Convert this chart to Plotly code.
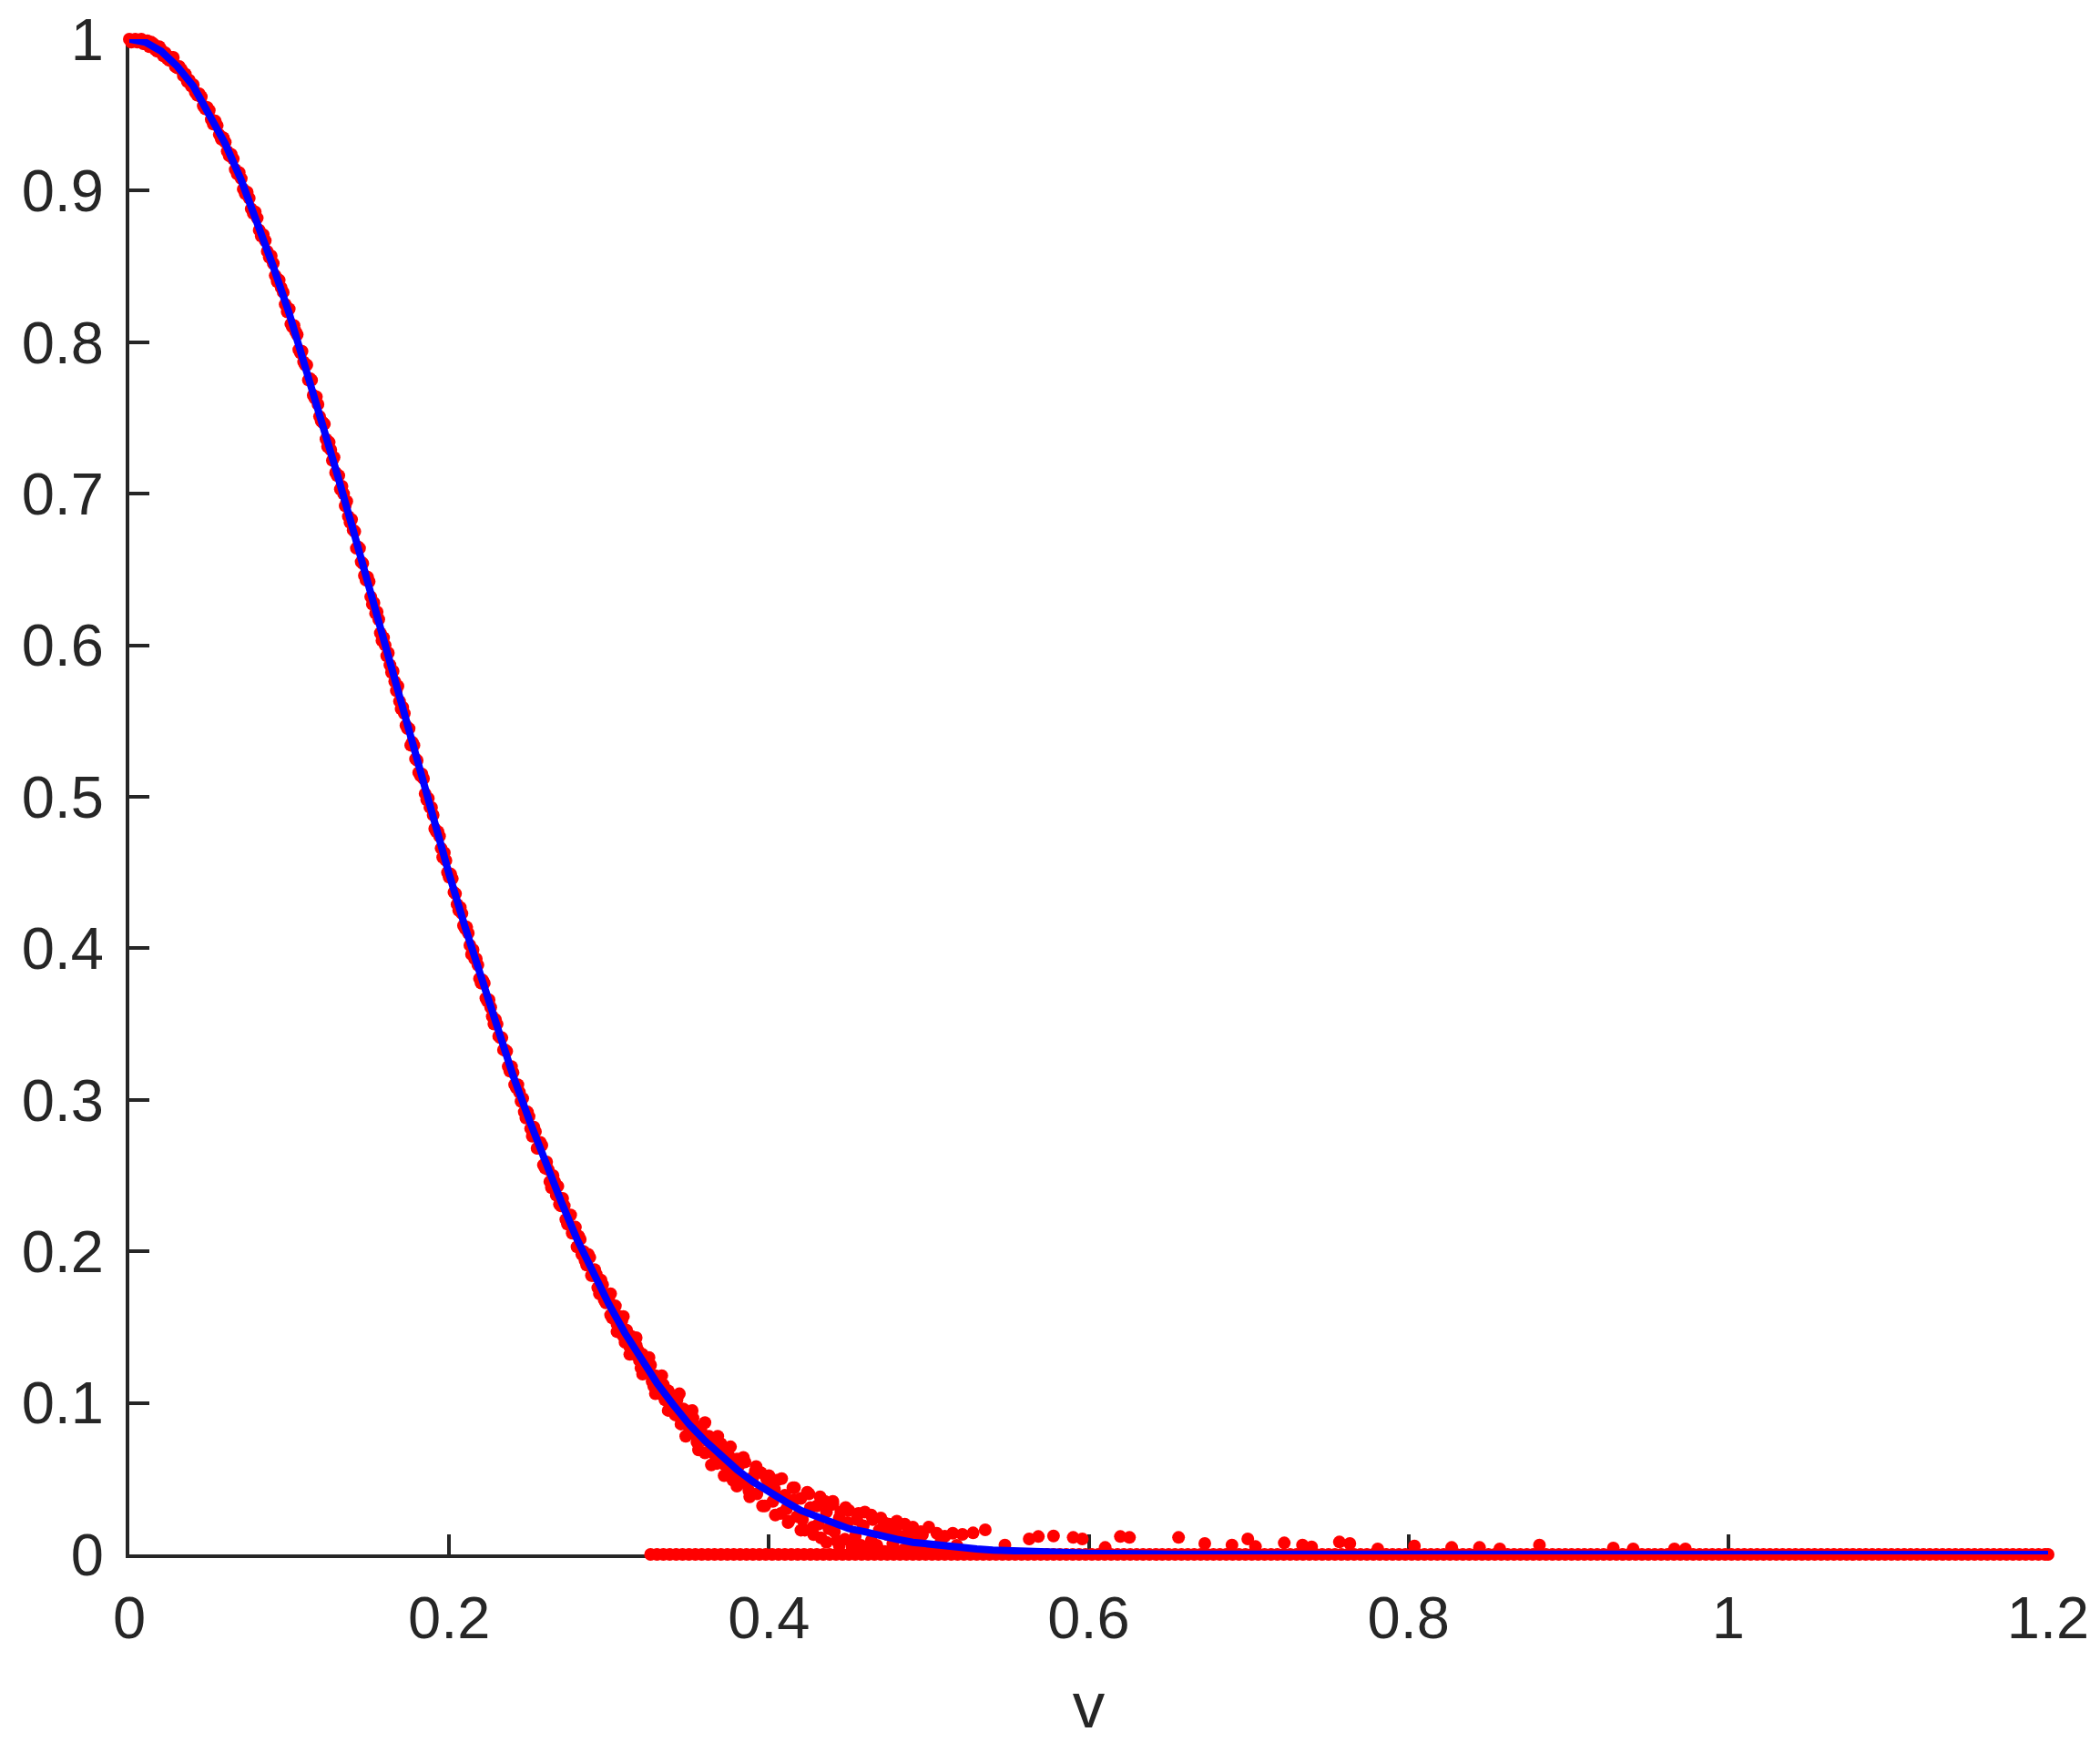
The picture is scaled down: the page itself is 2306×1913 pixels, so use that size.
import plotly.graph_objects as go

# ---------------- data ----------------
# fitted (blue) curve
curve_v = [0.00, 0.01, 0.02, 0.03, 0.04, 0.05, 0.06, 0.07, 0.08, 0.09,
           0.10, 0.11, 0.12, 0.13, 0.14, 0.15, 0.16, 0.17, 0.18, 0.19,
           0.20, 0.21, 0.22, 0.23, 0.24, 0.25, 0.26, 0.27, 0.28, 0.29,
           0.30, 0.31, 0.32, 0.33, 0.34, 0.35, 0.36, 0.37, 0.38, 0.39,
           0.40, 0.41, 0.42, 0.43, 0.44, 0.45, 0.46, 0.47, 0.48, 0.49,
           0.50, 0.51, 0.52, 0.53, 0.54, 0.55, 0.56, 0.58, 0.60, 0.65,
           0.70, 0.80, 0.90, 1.00, 1.10, 1.20]
curve_f = [1.000, 0.998, 0.992, 0.982, 0.969, 0.951, 0.931, 0.907, 0.880, 0.850,
           0.819, 0.785, 0.750, 0.713, 0.676, 0.638, 0.599, 0.561, 0.523, 0.486,
           0.449, 0.414, 0.380, 0.347, 0.316, 0.287, 0.259, 0.233, 0.208, 0.186,
           0.165, 0.146, 0.129, 0.113, 0.099, 0.086, 0.075, 0.065, 0.056, 0.048,
           0.041, 0.035, 0.029, 0.025, 0.021, 0.017, 0.015, 0.012, 0.010, 0.008,
           0.0067, 0.0055, 0.0045, 0.0036, 0.0029, 0.0024, 0.0019, 0.0012, 0.0007, 0.0002,
           0.0001, 0.0, 0.0, 0.0, 0.0, 0.0]

# red samples: top part
top_v = [0.0000, 0.0025, 0.0050, 0.0075, 0.0100, 0.0125, 0.0150, 0.0175, 0.0200, 0.0225,
         0.0250, 0.0275, 0.0300, 0.0325, 0.0350, 0.0375, 0.0400, 0.0425, 0.0450, 0.0475,
         0.0500, 0.0525, 0.0550, 0.0575, 0.0600, 0.0625, 0.0650, 0.0675, 0.0700, 0.0725,
         0.0750, 0.0775, 0.0800, 0.0825, 0.0850, 0.0875, 0.0900, 0.0925, 0.0950, 0.0975]
top_f = [1.000, 0.999, 0.998, 1.000, 0.997, 0.995, 0.997, 0.992, 0.993, 0.991,
         0.986, 0.988, 0.981, 0.980, 0.977, 0.973, 0.970, 0.963, 0.962, 0.954,
         0.953, 0.944, 0.943, 0.934, 0.932, 0.923, 0.921, 0.911, 0.908, 0.898,
         0.895, 0.885, 0.882, 0.870, 0.867, 0.856, 0.852, 0.840, 0.836, 0.825]

top2_v = [0.00125, 0.00375, 0.00625, 0.00875, 0.01125, 0.01375, 0.01625, 0.01875, 0.02125, 0.02375,
          0.02625, 0.02875, 0.03125, 0.03375, 0.03625, 0.03875, 0.04125, 0.04375, 0.04625, 0.04875,
          0.05125, 0.05375, 0.05625, 0.05875, 0.06125, 0.06375, 0.06625, 0.06875, 0.07125, 0.07375,
          0.07625, 0.07875, 0.08125, 0.08375, 0.08625, 0.08875, 0.09125, 0.09375, 0.09625, 0.09875]
top2_f = [0.998, 1.000, 1.001, 0.997, 0.999, 0.998, 0.993, 0.995, 0.989, 0.987,
          0.988, 0.982, 0.982, 0.976, 0.972, 0.969, 0.965, 0.964, 0.956, 0.955,
          0.947, 0.946, 0.937, 0.935, 0.926, 0.924, 0.914, 0.912, 0.901, 0.899,
          0.888, 0.886, 0.874, 0.871, 0.860, 0.857, 0.844, 0.841, 0.833, 0.820]

# red samples: steep part
mid_v = [0.100, 0.102, 0.104, 0.106, 0.108, 0.110, 0.112, 0.114, 0.116, 0.118,
         0.120, 0.122, 0.124, 0.126, 0.128, 0.130, 0.132, 0.134, 0.136, 0.138,
         0.140, 0.142, 0.144, 0.146, 0.148, 0.150, 0.152, 0.154, 0.156, 0.158,
         0.160, 0.162, 0.164, 0.166, 0.168, 0.170, 0.172, 0.174, 0.176, 0.178,
         0.180, 0.182, 0.184, 0.186, 0.188, 0.190, 0.192, 0.194, 0.196, 0.198,
         0.200, 0.202, 0.204, 0.206, 0.208, 0.210, 0.212, 0.214, 0.216, 0.218,
         0.220, 0.222, 0.224, 0.226, 0.228, 0.230, 0.232, 0.234, 0.236, 0.238,
         0.240, 0.242, 0.244, 0.246, 0.248, 0.250, 0.252, 0.254, 0.256, 0.258,
         0.260, 0.262, 0.264, 0.266, 0.268, 0.270, 0.272, 0.274, 0.276, 0.278,
         0.280, 0.282, 0.284, 0.286, 0.288, 0.290, 0.292, 0.294, 0.296, 0.298,
         0.300, 0.302, 0.304, 0.306, 0.308, 0.310, 0.312, 0.314, 0.316, 0.318,
         0.320, 0.322, 0.324, 0.326, 0.328, 0.330, 0.332, 0.334, 0.336, 0.338]
mid_f = [0.822, 0.810, 0.807, 0.795, 0.794, 0.785, 0.775, 0.775, 0.763, 0.759,
         0.748, 0.746, 0.731, 0.729, 0.724, 0.712, 0.703, 0.700, 0.695, 0.681,
         0.676, 0.664, 0.664, 0.654, 0.643, 0.642, 0.627, 0.621, 0.617, 0.603,
         0.600, 0.595, 0.582, 0.576, 0.573, 0.558, 0.555, 0.545, 0.534, 0.534,
         0.524, 0.514, 0.512, 0.498, 0.493, 0.488, 0.477, 0.474, 0.460, 0.458,
         0.447, 0.446, 0.436, 0.425, 0.423, 0.413, 0.410, 0.396, 0.393, 0.389,
         0.377, 0.377, 0.365, 0.361, 0.350, 0.350, 0.341, 0.333, 0.332, 0.319,
         0.318, 0.308, 0.305, 0.301, 0.288, 0.289, 0.276, 0.279, 0.268, 0.270,
         0.255, 0.254, 0.242, 0.246, 0.243, 0.230, 0.230, 0.218, 0.224, 0.212,
         0.203, 0.208, 0.200, 0.191, 0.196, 0.184, 0.185, 0.172, 0.178, 0.166,
         0.167, 0.156, 0.164, 0.152, 0.154, 0.140, 0.144, 0.144, 0.132, 0.135,
         0.123, 0.130, 0.120, 0.125, 0.111, 0.115, 0.106, 0.112, 0.102, 0.106]

mid2_v = [0.101, 0.103, 0.105, 0.107, 0.109, 0.111, 0.113, 0.115, 0.117, 0.119,
          0.121, 0.123, 0.125, 0.127, 0.129, 0.131, 0.133, 0.135, 0.137, 0.139,
          0.141, 0.143, 0.145, 0.147, 0.149, 0.151, 0.153, 0.155, 0.157, 0.159,
          0.161, 0.163, 0.165, 0.167, 0.169, 0.171, 0.173, 0.175, 0.177, 0.179,
          0.181, 0.183, 0.185, 0.187, 0.189, 0.191, 0.193, 0.195, 0.197, 0.199,
          0.201, 0.203, 0.205, 0.207, 0.209, 0.211, 0.213, 0.215, 0.217, 0.219,
          0.221, 0.223, 0.225, 0.227, 0.229, 0.231, 0.233, 0.235, 0.237, 0.239,
          0.241, 0.243, 0.245, 0.247, 0.249, 0.251, 0.253, 0.255, 0.257, 0.259,
          0.261, 0.263, 0.265, 0.267, 0.269, 0.271, 0.273, 0.275, 0.277, 0.279,
          0.281, 0.283, 0.285, 0.287, 0.289, 0.291, 0.293, 0.295, 0.297, 0.299,
          0.301, 0.303, 0.305, 0.307, 0.309, 0.311, 0.313, 0.315, 0.317, 0.319,
          0.321, 0.323, 0.325, 0.327, 0.329, 0.331, 0.333, 0.335, 0.337, 0.339]
mid2_f = [0.812, 0.811, 0.805, 0.793, 0.787, 0.785, 0.776, 0.765, 0.764, 0.751,
          0.747, 0.736, 0.734, 0.722, 0.714, 0.712, 0.705, 0.692, 0.685, 0.683,
          0.675, 0.665, 0.655, 0.646, 0.645, 0.632, 0.628, 0.622, 0.608, 0.605,
          0.593, 0.587, 0.583, 0.570, 0.563, 0.559, 0.547, 0.545, 0.536, 0.525,
          0.516, 0.515, 0.502, 0.499, 0.493, 0.479, 0.477, 0.466, 0.463, 0.450,
          0.449, 0.437, 0.429, 0.427, 0.415, 0.414, 0.402, 0.399, 0.393, 0.380,
          0.379, 0.367, 0.366, 0.355, 0.353, 0.342, 0.341, 0.333, 0.322, 0.322,
          0.310, 0.310, 0.299, 0.292, 0.292, 0.281, 0.282, 0.268, 0.272, 0.257,
          0.259, 0.246, 0.250, 0.237, 0.231, 0.235, 0.221, 0.223, 0.212, 0.216,
          0.210, 0.198, 0.194, 0.198, 0.184, 0.188, 0.176, 0.181, 0.168, 0.171,
          0.158, 0.163, 0.152, 0.157, 0.144, 0.148, 0.137, 0.133, 0.138, 0.128,
          0.132, 0.120, 0.125, 0.114, 0.118, 0.107, 0.113, 0.102, 0.108, 0.097]

# red samples: tail
tail_v = [0.3400, 0.3425, 0.3450, 0.3475, 0.3500, 0.3525, 0.3550, 0.3575, 0.3600, 0.3625,
          0.3650, 0.3675, 0.3700, 0.3725, 0.3750, 0.3775, 0.3800, 0.3825, 0.3850, 0.3875,
          0.3900, 0.3925, 0.3950, 0.3975, 0.4000, 0.4025, 0.4050, 0.4075, 0.4100, 0.4125,
          0.4150, 0.4175, 0.4200, 0.4225, 0.4250, 0.4275, 0.4300, 0.4325, 0.4350, 0.4375,
          0.4400, 0.4425, 0.4450, 0.4475, 0.4500, 0.4525, 0.4550, 0.4575, 0.4600, 0.4625,
          0.4650, 0.4675, 0.4700, 0.4725, 0.4750, 0.4775, 0.4800, 0.4825, 0.4850, 0.4875,
          0.4900, 0.4925, 0.4950, 0.4975, 0.5000, 0.5025, 0.5050, 0.5075, 0.5100, 0.5125,
          0.5150, 0.5175, 0.5200]
tail_f = [0.095, 0.102, 0.086, 0.092, 0.084, 0.090, 0.074, 0.082, 0.067, 0.078,
          0.071, 0.060, 0.073, 0.059, 0.065, 0.049, 0.063, 0.050, 0.061, 0.042,
          0.051, 0.040, 0.054, 0.032, 0.047, 0.035, 0.049, 0.027, 0.039, 0.022,
          0.044, 0.025, 0.037, 0.016, 0.040, 0.018, 0.032, 0.011, 0.035, 0.017,
          0.035, 0.009, 0.028, 0.010, 0.029, 0.004, 0.023, 0.006, 0.028, 0.002,
          0.023, 0.006, 0.024, 0.002, 0.020, 0.007, 0.022, 0.002, 0.020, 0.004,
          0.018, 0.002, 0.015, 0.004, 0.018, 0.002, 0.014, 0.008, 0.012, 0.002,
          0.014, 0.006, 0.003]

# extra samples in the scattered cloud
cloud_v = [0.3415, 0.3465, 0.3515, 0.3565, 0.3615, 0.3665, 0.3715, 0.3765, 0.3815, 0.3865,
           0.3915, 0.3985, 0.4035, 0.4110, 0.4160, 0.4210, 0.4260, 0.4310, 0.4360, 0.4410,
           0.4440, 0.4490, 0.4540, 0.4590, 0.4640, 0.4690, 0.4740, 0.4790, 0.4840, 0.4890,
           0.4940]
cloud_f = [0.092, 0.096, 0.080, 0.084, 0.075, 0.065, 0.068, 0.053, 0.059, 0.046,
           0.055, 0.050, 0.043, 0.030, 0.036, 0.023, 0.031, 0.020, 0.028, 0.015,
           0.024, 0.021, 0.012, 0.019, 0.009, 0.016, 0.013, 0.015, 0.012, 0.010,
           0.011]

cloud2_v = [0.301, 0.305, 0.309, 0.313, 0.317, 0.321, 0.325, 0.329, 0.333, 0.337,
            0.344, 0.348, 0.352, 0.356, 0.360, 0.364, 0.368, 0.372, 0.376, 0.380,
            0.384, 0.388, 0.392, 0.396, 0.400, 0.404, 0.408, 0.412, 0.416, 0.420,
            0.424, 0.428, 0.432, 0.436, 0.440, 0.444, 0.448, 0.452, 0.456, 0.460,
            0.464, 0.468, 0.472, 0.476, 0.480, 0.484, 0.488, 0.492, 0.496, 0.500]
cloud2_f = [0.172, 0.147, 0.157, 0.132, 0.143, 0.119, 0.130, 0.106, 0.118, 0.095,
            0.106, 0.078, 0.095, 0.069, 0.087, 0.059, 0.078, 0.052, 0.071, 0.045,
            0.064, 0.038, 0.058, 0.032, 0.052, 0.026, 0.050, 0.021, 0.044, 0.016,
            0.041, 0.013, 0.038, 0.008, 0.033, 0.006, 0.031, 0.005, 0.027, 0.003,
            0.026, 0.004, 0.021, 0.002, 0.019, 0.003, 0.016, 0.001, 0.013, 0.002]

# isolated samples far in the tail
outlier_v = [0.5210, 0.5277, 0.5353, 0.5476, 0.5628, 0.5685, 0.5780, 0.5903, 0.5960, 0.6103,
             0.6198, 0.6255, 0.6562, 0.6726, 0.6896, 0.6995, 0.7043, 0.7223, 0.7337, 0.7394,
             0.7568, 0.7633, 0.7808, 0.8037, 0.8270, 0.8444, 0.8571, 0.8819, 0.9281, 0.9405,
             0.9663, 0.9732]
outlier_f = [0.0132, 0.0142, 0.0162, 0.0062, 0.0102, 0.0118, 0.0122, 0.0112, 0.0102, 0.0046,
             0.0118, 0.0112, 0.0112, 0.0072, 0.0062, 0.0102, 0.0052, 0.0076, 0.0062, 0.0050,
             0.0082, 0.0072, 0.0036, 0.0056, 0.0046, 0.0046, 0.0036, 0.0062, 0.0042, 0.0036,
             0.0036, 0.0036]

# samples that are exactly zero
zero_v = [0.326, 0.330, 0.334, 0.338, 0.342, 0.346, 0.350, 0.354, 0.358, 0.362,
          0.366, 0.370, 0.374, 0.378, 0.382, 0.386, 0.390, 0.394, 0.398, 0.402,
          0.406, 0.410, 0.414, 0.418, 0.422, 0.426, 0.430, 0.434, 0.438, 0.442,
          0.446, 0.450, 0.454, 0.458, 0.462, 0.466, 0.470, 0.474, 0.478, 0.482,
          0.486, 0.490, 0.494, 0.498, 0.502, 0.506, 0.510, 0.514, 0.518, 0.522,
          0.526, 0.530, 0.534, 0.538, 0.542, 0.546, 0.550, 0.554, 0.558, 0.562,
          0.566, 0.570, 0.574, 0.578, 0.582, 0.586, 0.590, 0.594, 0.598, 0.602,
          0.606, 0.610, 0.614, 0.618, 0.622, 0.626, 0.630, 0.634, 0.638, 0.642,
          0.646, 0.650, 0.654, 0.658, 0.662, 0.666, 0.670, 0.674, 0.678, 0.682,
          0.686, 0.690, 0.694, 0.698, 0.702, 0.706, 0.710, 0.714, 0.718, 0.722,
          0.726, 0.730, 0.734, 0.738, 0.742, 0.746, 0.750, 0.754, 0.758, 0.762,
          0.766, 0.770, 0.774, 0.778, 0.782, 0.786, 0.790, 0.794, 0.798, 0.802,
          0.806, 0.810, 0.814, 0.818, 0.822, 0.826, 0.830, 0.834, 0.838, 0.842,
          0.846, 0.850, 0.854, 0.858, 0.862, 0.866, 0.870, 0.874, 0.878, 0.882,
          0.886, 0.890, 0.894, 0.898, 0.902, 0.906, 0.910, 0.914, 0.918, 0.922,
          0.926, 0.930, 0.934, 0.938, 0.942, 0.946, 0.950, 0.954, 0.958, 0.962,
          0.966, 0.970, 0.974, 0.978, 0.982, 0.986, 0.990, 0.994, 0.998, 1.002,
          1.006, 1.010, 1.014, 1.018, 1.022, 1.026, 1.030, 1.034, 1.038, 1.042,
          1.046, 1.050, 1.054, 1.058, 1.062, 1.066, 1.070, 1.074, 1.078, 1.082,
          1.086, 1.090, 1.094, 1.098, 1.102, 1.106, 1.110, 1.114, 1.118, 1.122,
          1.126, 1.130, 1.134, 1.138, 1.142, 1.146, 1.150, 1.154, 1.158, 1.162,
          1.166, 1.170, 1.174, 1.178, 1.182, 1.186, 1.190, 1.194, 1.198, 1.200]
zero_f = [0.0] * len(zero_v)

x_ticks = [0, 0.2, 0.4, 0.6, 0.8, 1.0, 1.2]
x_tick_text = ["0", "0.2", "0.4", "0.6", "0.8", "1", "1.2"]
y_ticks = [0, 0.1, 0.2, 0.3, 0.4, 0.5, 0.6, 0.7, 0.8, 0.9, 1.0]
y_tick_text = ["0", "0.1", "0.2", "0.3", "0.4", "0.5", "0.6", "0.7", "0.8", "0.9", "1"]
x_title = "v"

# ---------------- figure ----------------
red_v = top_v + top2_v + mid_v + mid2_v + tail_v + cloud_v + cloud2_v + outlier_v + zero_v
red_f = top_f + top2_f + mid_f + mid2_f + tail_f + cloud_f + cloud2_f + outlier_f + zero_f

AX = "#262626"
FONT = "Liberation Sans, Arial, Helvetica, sans-serif"

fig = go.Figure()
fig.add_trace(go.Scatter(
    x=red_v, y=red_f, mode="markers",
    marker=dict(color="#ff0000", size=14, line=dict(width=0)),
    cliponaxis=False, hoverinfo="skip"))
fig.add_trace(go.Scatter(
    x=curve_v, y=curve_f, mode="lines",
    line=dict(color="#0000ff", width=8),
    cliponaxis=False, hoverinfo="skip"))

axis_common = dict(
    showgrid=False, zeroline=False, showline=True, linewidth=4, linecolor=AX,
    ticks="inside", ticklen=22, tickwidth=4, tickcolor=AX,
    tickfont=dict(family=FONT, size=65, color=AX),
    layer="below traces", mirror=False, automargin=False,
)

fig.update_layout(
    width=2306, height=1913,
    margin=dict(l=142, r=57, t=43, b=206, autoexpand=False),
    paper_bgcolor="white", plot_bgcolor="white",
    showlegend=False,
    font=dict(family=FONT, color=AX),
    xaxis=dict(range=[0, 1.2], tickvals=x_ticks, ticktext=x_tick_text,
               ticklabelstandoff=10,
               title=dict(text=x_title, font=dict(family=FONT, size=71, color=AX), standoff=36),
               **axis_common),
    yaxis=dict(range=[0, 1], tickvals=y_ticks, ticktext=y_tick_text,
               ticklabelstandoff=11,
               **axis_common),
)

fig.write_html("out.html",
               config={"displayModeBar": False, "staticPlot": True},
               post_script="document.body.style.margin='0';document.body.style.overflow='hidden';")
